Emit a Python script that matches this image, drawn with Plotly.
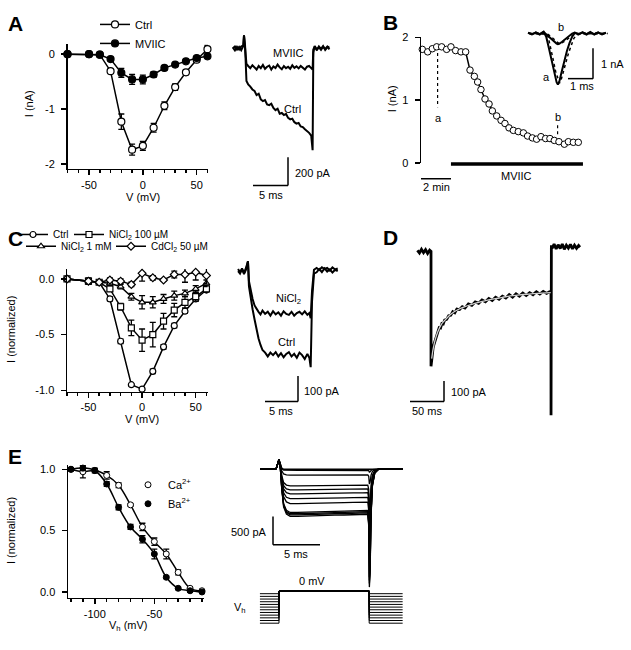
import plotly.graph_objects as go

W, H = 631, 650
FONT = "Liberation Sans, Arial, Helvetica, sans-serif"


def px(x):
    return x / W


def py(y):
    return 1 - y / H


def dx(a, b):
    return [a / W, b / W]


def dy(top, bot):
    return [1 - bot / H, 1 - top / H]


# ---------------- Panel A : I-V ----------------
V_A = [-70, -50, -40, -30, -20, -10, 0, 10, 20, 30, 40, 50, 60]
A_ctrl = [0, 0, -0.01, -0.31, -1.23, -1.74, -1.67, -1.34, -0.94, -0.60, -0.33, -0.10, 0.09]
A_ctrl_err = [0, 0.01, 0.02, 0.03, 0.14, 0.10, 0.08, 0.08, 0.07, 0.06, 0.04, 0.04, 0.07]
A_mviic = [0, 0, -0.01, -0.09, -0.34, -0.46, -0.46, -0.37, -0.25, -0.19, -0.13, -0.07, -0.04]
A_mviic_err = [0, 0.01, 0.02, 0.03, 0.08, 0.09, 0.08, 0.05, 0.04, 0.03, 0.02, 0.03, 0.03]

# Panel A : example currents (ms, pA)
tA = [-1.6, -1.3, -1.0, -0.7, -0.4, -0.1, 0.0, 0.15, 0.35, 0.6,
      0.9, 1.2, 1.5, 1.8, 2.1, 2.4, 2.7, 3.0, 3.3, 3.6,
      3.9, 4.2, 4.5, 4.8, 5.1, 5.4, 5.7, 6.0, 6.3, 6.6,
      6.9, 7.2, 7.5, 7.8, 8.1, 8.4, 8.7, 9.0, 9.3, 9.6,
      9.8, 9.9, 10.1, 10.4, 10.7, 11.0, 11.3, 11.6, 11.9, 12.2]
A_tr_ctrl = [5, -15, 10, -10, 12, 20, 90, 20, -230, -255,
             -270, -290, -300, -330, -320, -360, -372, -365, -395, -400,
             -390, -420, -435, -425, -460, -455, -470, -462, -490, -500,
             -495, -520, -530, -525, -550, -555, -570, -580, -595, -614,
             -717, -30, 15, -10, 8, -12, 10, -5, 12, -8]
A_tr_mviic = [0, 12, -10, 8, -14, 15, 90, 10, -110, -125,
              -140, -120, -135, -150, -125, -140, -118, -145, -130, -122,
              -150, -128, -140, -115, -135, -148, -125, -140, -130, -145,
              -120, -138, -128, -142, -125, -135, -150, -130, -125, -140,
              -150, -10, 10, -15, 12, -5, 15, -12, 5, 10]

# ---------------- Panel B : time course (min, nA) ----------------
tB = [0.02, 0.38, 0.69, 0.98, 1.31, 1.64, 1.93, 2.24, 2.6, 2.91,
      3.2, 3.49, 3.71, 3.93, 4.2, 4.47, 4.69, 4.98, 5.27, 5.53,
      5.8, 6.09, 6.42, 6.76, 7.04, 7.36, 7.64, 7.93, 8.24, 8.53,
      8.82, 9.13, 9.49, 9.76, 10.09, 10.42]
IB = [1.81, 1.77, 1.82, 1.85, 1.85, 1.81, 1.85, 1.79, 1.77, 1.77,
      1.48, 1.38, 1.29, 1.17, 1.02, 0.94, 0.83, 0.75, 0.68, 0.63,
      0.56, 0.52, 0.50, 0.48, 0.43, 0.40, 0.38, 0.42, 0.39, 0.39,
      0.36, 0.34, 0.30, 0.34, 0.33, 0.33]
B_mark_t = [1.04, 9.04]
B_mark_top = [1.75, 0.60]
B_mark_bot = [0.89, 0.45]
B_mviic_span = [1.93, 10.73]

# inset (ms, nA)
tI = [0, 0.15, 0.3, 0.45, 0.6, 0.7, 0.8, 0.9, 1.0, 1.1, 1.15, 1.2, 1.3,
      1.4, 1.5, 1.6, 1.7, 1.8, 1.95, 2.1, 2.25, 2.4, 2.55, 2.7, 2.85, 3.0]
I_a = [0.02, -0.03, 0.04, -0.02, 0.06, -0.1, -0.45, -0.85, -1.25, -1.55, -1.63, -1.55, -1.2,
       -0.85, -0.55, -0.3, -0.1, 0.02, -0.03, 0.04, -0.02, 0.05, -0.03, 0.03, -0.02, 0.03]
I_b = [0.03, -0.02, 0.03, -0.03, 0.05, -0.03, -0.1, -0.18, -0.26, -0.32, -0.34, -0.33, -0.27,
       -0.2, -0.13, -0.06, 0.0, 0.03, -0.02, 0.04, -0.03, 0.03, -0.02, 0.04, -0.03, 0.02]
I_a_fit = [0, 0, 0, 0, 0, -0.05, -0.38, -0.8, -1.2, -1.5, -1.58, -1.52, -1.25,
           -0.92, -0.62, -0.36, -0.16, -0.05, 0, 0, 0, 0, 0, 0, 0, 0]
I_b_fit = [0, 0, 0, 0, 0, -0.02, -0.08, -0.16, -0.24, -0.3, -0.33, -0.32, -0.28,
           -0.22, -0.15, -0.08, -0.03, 0, 0, 0, 0, 0, 0, 0, 0, 0]

# ---------------- Panel C : normalized I-V ----------------
V_C = [-70, -50, -40, -30, -20, -10, 0, 10, 20, 30, 40, 50, 60]
C_ctrl = [0, -0.02, -0.03, -0.18, -0.56, -0.95, -0.99, -0.83, -0.61, -0.42, -0.29, -0.18, -0.10]
C_ctrl_err = [0, 0.01, 0.01, 0.02, 0.02, 0.01, 0.01, 0.02, 0.02, 0.02, 0.02, 0.02, 0.02]
C_ni100 = [0, -0.02, -0.03, -0.09, -0.25, -0.44, -0.55, -0.50, -0.38, -0.28, -0.21, -0.16, -0.09]
C_ni100_err = [0, 0.01, 0.01, 0.02, 0.03, 0.07, 0.10, 0.11, 0.07, 0.06, 0.05, 0.04, 0.03]
C_ni1 = [0, -0.02, -0.03, -0.04, -0.07, -0.16, -0.21, -0.21, -0.18, -0.15, -0.13, -0.09, -0.04]
C_ni1_err = [0, 0.01, 0.01, 0.02, 0.02, 0.03, 0.06, 0.05, 0.04, 0.04, 0.03, 0.03, 0.03]
C_cd = [0, -0.02, -0.03, -0.01, -0.02, -0.05, 0.05, 0.01, -0.01, 0.04, 0.04, 0.06, 0.03]
C_cd_err = [0, 0.03, 0.01, 0.02, 0.02, 0.02, 0.07, 0.02, 0.01, 0.03, 0.07, 0.07, 0.07]

# Panel C currents (ms, pA)
tC = [-1.5, -1.2, -0.9, -0.6, -0.3, 0, 0.15, 0.4, 0.7, 1.0,
      1.3, 1.6, 1.9, 2.2, 2.6, 3.0, 3.4, 3.8, 4.2, 4.6,
      5.0, 5.4, 5.8, 6.2, 6.6, 7.0, 7.4, 7.8, 8.2, 8.6,
      9.0, 9.3, 9.5, 9.7, 10.0, 10.4, 10.8, 11.2, 11.6, 12.0,
      12.4, 12.8, 13.2, 13.6]
C_tr_ctrl = [0, -10, 8, -12, 5, 38, -60, -110, -150, -190,
             -230, -265, -290, -310, -320, -335, -320, -330, -318, -335,
             -322, -338, -325, -318, -335, -325, -340, -320, -330, -345,
             -325, -340, -377, -120, -10, -5, 8, -4, 10, -2,
             6, -6, 5, 0]
C_tr_ni = [8, -6, 10, -8, 12, 38, -40, -75, -110, -135,
           -150, -160, -170, -155, -168, -160, -175, -158, -170, -162,
           -175, -158, -168, -172, -160, -175, -165, -160, -170, -158,
           -172, -165, -185, -80, 5, 12, 4, 15, 8, 12,
           2, 14, 6, 10]

# ---------------- Panel D : long pulse (ms, pA) ----------------
tD = [-20, -17, -14, -11, -8, -5, -2, 0, 0.01, 1, 2, 3, 4, 6, 8, 10, 12, 14, 16, 18,
      20, 23, 26, 29, 32, 35, 38, 42, 46, 50, 55, 60, 65, 70, 75, 80, 85, 90, 95, 100,
      105, 110, 115, 120, 125, 130, 135, 140, 145, 150, 155, 160, 165, 170, 174, 176.4, 176.5, 177, 178, 181,
      184, 187, 190, 193, 196, 199, 202, 205, 208, 211, 214, 217, 219]
ID = [5, -8, 10, -6, 8, -10, 6, 0, -557, -515, -495, -470, -455, -432, -405, -392, -370, -372, -350, -352,
      -333, -330, -312, -310, -292, -298, -280, -282, -268, -275, -255, -262, -245, -252, -236, -244, -228, -238, -222, -232,
      -217, -226, -210, -222, -206, -217, -202, -214, -200, -210, -196, -207, -194, -204, -196, -200, -795, 30, 15, 35,
      12, 32, 14, 36, 10, 30, 16, 34, 12, 30, 15, 28, 20]
tD_fit = [1, 3, 6, 10, 15, 20, 30, 40, 50, 60, 70, 80, 90, 100, 110, 120, 130, 140, 150, 160, 170, 176]
ID_fit = [-520, -475, -430, -390, -355, -335, -302, -282, -268, -257, -247, -239, -232, -226, -220,
          -215, -211, -208, -205, -203, -201, -200]

# ---------------- Panel E : inactivation ----------------
Vh = [-120, -110, -100, -90, -80, -70, -60, -50, -40, -30, -20, -10]
E_ca = [1.0, 0.98, 0.99, 0.95, 0.87, 0.71, 0.53, 0.41, 0.31, 0.16, 0.03, 0.01]
E_ca_err = [0.01, 0.05, 0.01, 0.03, 0.02, 0.01, 0.03, 0.03, 0.04, 0.02, 0.01, 0.01]
E_ba = [1.0, 1.01, 0.99, 0.88, 0.69, 0.53, 0.43, 0.31, 0.12, 0.03, 0.01, 0.0]
E_ba_err = [0.01, 0.02, 0.02, 0.02, 0.02, 0.02, 0.03, 0.04, 0.01, 0.01, 0.01, 0.01]

# Panel E currents: shared time base, normalized waveform, per-trace amplitude (pA)
tE = [-2.0, -1.0, -0.3, 0.0, 0.15, 0.3, 0.5, 0.8, 1.2, 2.0, 3.0, 4.0, 5.0, 6.0,
      7.0, 8.0, 9.0, 9.55, 9.65, 9.72, 9.8, 9.9, 10.05, 10.3, 10.7, 11.5, 12.5, 13.3]
E_wave = [0, 0, 0, 0, 0.1, 0.45, 0.8, 0.95, 1.0, 1.0, 0.99, 0.985, 0.98, 0.975,
          0.97, 0.965, 0.96, 0.955, 1.2, 2.5, 2.2, 1.0, 0.35, 0.08, 0.0, 0, 0, 0]
E_cap = [0, 0, 10, 170, 90, 20, 0, 0, 0, 0, 0, 0, 0, 0,
         0, 0, 0, 0, 0, 0, 0, 0, 0, 0, 0, 0, 0, 0]
E_amp = [0, -20, -103, -292, -361, -430, -516, -602, -757, -780, -800, -826]
# voltage protocol (ms, mV)
E_hold = [-10, -20, -30, -40, -50, -60, -70, -80, -90, -100, -110, -120]
E_step_mV = 0
E_step_t = [-2.05, 0.0, 9.7, 13.3]

fig = go.Figure()
blk = "black"


def iv_trace(x, y, err, xa, ya, symbol, fill, name, legend, size=7, showlegend=True):
    return go.Scatter(
        x=x, y=y, xaxis=xa, yaxis=ya, name=name, legend=legend, showlegend=showlegend,
        mode="lines+markers", cliponaxis=False,
        line=dict(color=blk, width=1.5),
        marker=dict(symbol=symbol, size=size, color=fill, line=dict(color=blk, width=1.2)),
        error_y=dict(type="data", array=err, visible=True, color=blk, thickness=1.3, width=3),
    )


# A
fig.add_trace(iv_trace(V_A, A_ctrl, A_ctrl_err, "x", "y", "circle", "white", "Ctrl", "legend"))
fig.add_trace(iv_trace(V_A, A_mviic, A_mviic_err, "x", "y", "circle", blk, "MVIIC", "legend"))
fig.add_trace(go.Scatter(x=tA, y=A_tr_mviic, xaxis="x2", yaxis="y2", mode="lines",
                         line=dict(color=blk, width=2), showlegend=False))
fig.add_trace(go.Scatter(x=tA, y=A_tr_ctrl, xaxis="x2", yaxis="y2", mode="lines",
                         line=dict(color=blk, width=2), showlegend=False))

# B
fig.add_trace(go.Scatter(x=tB, y=IB, xaxis="x3", yaxis="y3", mode="lines+markers", cliponaxis=False,
                         line=dict(color=blk, width=1.5),
                         marker=dict(symbol="circle", size=6.5, color="white", line=dict(color=blk, width=1)),
                         showlegend=False))
for t, a, b in zip(B_mark_t, B_mark_top, B_mark_bot):
    fig.add_trace(go.Scatter(x=[t, t], y=[a, b], xaxis="x3", yaxis="y3", mode="lines",
                             line=dict(color=blk, width=1.2, dash="dot"), showlegend=False))
for arr, w in ((I_a, 2), (I_b, 2)):
    fig.add_trace(go.Scatter(x=tI, y=arr, xaxis="x4", yaxis="y4", mode="lines",
                             line=dict(color=blk, width=w), showlegend=False))
for arr in (I_a_fit, I_b_fit):
    fig.add_trace(go.Scatter(x=[t + 0.06 for t in tI], y=arr, xaxis="x4", yaxis="y4", mode="lines",
                             line=dict(color=blk, width=1.5, dash="dot"), showlegend=False))

# C
fig.add_trace(iv_trace(V_C, C_ctrl, C_ctrl_err, "x5", "y5", "circle", "white", "Ctrl", "legend2", 6))
fig.add_trace(iv_trace(V_C, C_ni100, C_ni100_err, "x5", "y5", "square", "white", "NiCl<sub>2</sub> 100 µM", "legend3", 6))
fig.add_trace(iv_trace(V_C, C_ni1, C_ni1_err, "x5", "y5", "triangle-up", "white", "NiCl<sub>2</sub> 1 mM", "legend5", 6))
fig.add_trace(iv_trace(V_C, C_cd, C_cd_err, "x5", "y5", "diamond", "white", "CdCl<sub>2</sub> 50 µM", "legend6", 6))
fig.add_trace(go.Scatter(x=tC, y=C_tr_ni, xaxis="x6", yaxis="y6", mode="lines",
                         line=dict(color=blk, width=2), showlegend=False))
fig.add_trace(go.Scatter(x=tC, y=C_tr_ctrl, xaxis="x6", yaxis="y6", mode="lines",
                         line=dict(color=blk, width=2), showlegend=False))

# D
fig.add_trace(go.Scatter(x=tD, y=ID, xaxis="x7", yaxis="y7", mode="lines",
                         line=dict(color=blk, width=2.8), showlegend=False))
fig.add_trace(go.Scatter(x=tD_fit, y=ID_fit, xaxis="x7", yaxis="y7", mode="lines", line_shape="spline",
                         line=dict(color="#d0d0d0", width=1.3), showlegend=False))

# E
fig.add_trace(go.Scatter(x=Vh, y=E_ca, xaxis="x8", yaxis="y8", mode="lines", line_shape="spline",
                         line=dict(color=blk, width=1.5), showlegend=False))
fig.add_trace(go.Scatter(x=Vh, y=E_ba, xaxis="x8", yaxis="y8", mode="lines", line_shape="spline",
                         line=dict(color=blk, width=1.5), showlegend=False))
fig.add_trace(go.Scatter(x=Vh, y=E_ca, xaxis="x8", yaxis="y8", mode="markers", cliponaxis=False,
                         name="Ca<sup>2+</sup>", legend="legend4",
                         marker=dict(symbol="circle", size=6, color="white", line=dict(color=blk, width=1)),
                         error_y=dict(type="data", array=E_ca_err, color=blk, thickness=1.3, width=3)))
fig.add_trace(go.Scatter(x=Vh, y=E_ba, xaxis="x8", yaxis="y8", mode="markers", cliponaxis=False,
                         name="Ba<sup>2+</sup>", legend="legend4",
                         marker=dict(symbol="circle", size=6, color=blk, line=dict(color=blk, width=1)),
                         error_y=dict(type="data", array=E_ba_err, color=blk, thickness=1.3, width=3)))
for amp in E_amp:
    yy = [amp * w + c for w, c in zip(E_wave, E_cap)]
    fig.add_trace(go.Scatter(x=tE, y=yy, xaxis="x9", yaxis="y9", mode="lines",
                             line=dict(color=blk, width=1.3), showlegend=False))
for vh in E_hold:
    fig.add_trace(go.Scatter(x=[E_step_t[0], E_step_t[1], E_step_t[1], E_step_t[2], E_step_t[2], E_step_t[3]],
                             y=[vh, vh, E_step_mV, E_step_mV, vh, vh], xaxis="x10", yaxis="y10", mode="lines",
                             line=dict(color=blk, width=1), showlegend=False))

# -------- axes --------
tickfont = dict(family=FONT, size=11, color=blk)
base = dict(showline=True, linecolor=blk, linewidth=1.5, ticks="outside", ticklen=5, tickwidth=1.5,
            tickcolor=blk, showgrid=False, zeroline=False, tickfont=tickfont, fixedrange=True)
hidden = dict(visible=False, showgrid=False, zeroline=False, fixedrange=True)

lay = {}
# A IV
lay["xaxis"] = dict(base, domain=dx(67.5, 208), range=[-70, 60.5], anchor="y",
                    tickmode="array", tickvals=[-50, 0, 50], ticktext=["-50", "0", "50"],
                    minor=dict(ticks="outside", ticklen=3, tickwidth=1.5, tickcolor=blk,
                               tickmode="array", tickvals=list(range(-70, 61, 10))))
lay["yaxis"] = dict(base, domain=dy(39, 166), range=[-2.09, 0.18], anchor="x",
                    tickmode="array", tickvals=[0, -1, -2], ticktext=["0", "-1", "-2"], ticklabelstandoff=4)
lay["xaxis2"] = dict(hidden, domain=dx(230, 332), range=[-2, 12.57], anchor="y2")
lay["yaxis2"] = dict(hidden, domain=dy(25, 200), range=[-1083, 124], anchor="x2")
# B
lay["xaxis3"] = dict(hidden, domain=dx(421, 590), range=[-0.067, 11.2], anchor="y3")
lay["yaxis3"] = dict(base, domain=dy(32, 160), range=[0, 2], anchor="x3",
                     tickmode="array", tickvals=[0, 1, 2], ticktext=["0", "1", "2"], ticklabelstandoff=4)
lay["xaxis4"] = dict(hidden, domain=dx(520, 615), range=[-0.31, 3.35], anchor="y4")
lay["yaxis4"] = dict(hidden, domain=dy(15, 90), range=[-1.94, 0.41], anchor="x4")
# C IV
lay["xaxis5"] = dict(base, domain=dx(67, 207.5), range=[-70, 61], anchor="y5",
                     tickmode="array", tickvals=[-50, 0, 50], ticktext=["-50", "0", "50"],
                     minor=dict(ticks="outside", ticklen=3, tickwidth=1.5, tickcolor=blk,
                                tickmode="array", tickvals=list(range(-70, 61, 10))))
lay["yaxis5"] = dict(base, domain=dy(268, 393), range=[-1.0133, 0.0885], anchor="x5",
                     tickmode="array", tickvals=[0, -0.5, -1], ticktext=["0.0", "-0.5", "-1.0"], ticklabelstandoff=4)
lay["xaxis6"] = dict(hidden, domain=dx(232, 345), range=[-2.42, 14.7], anchor="y6")
lay["yaxis6"] = dict(hidden, domain=dy(250, 420), range=[-577.5, 77], anchor="x6")
# D
lay["xaxis7"] = dict(hidden, domain=dx(410, 590), range=[-30.9, 233.8], anchor="y7")
lay["yaxis7"] = dict(hidden, domain=dy(235, 425), range=[-833, 71.4], anchor="x7")
# E IV
lay["xaxis8"] = dict(base, domain=dx(68, 204), range=[-122.5, -8.3], anchor="y8",
                     tickmode="array", tickvals=[-100, -50], ticktext=["-100", "-50"],
                     minor=dict(ticks="outside", ticklen=3, tickwidth=1.5, tickcolor=blk,
                                tickmode="array", tickvals=list(range(-120, -9, 10))))
lay["yaxis8"] = dict(base, domain=dy(468, 603), range=[-0.048, 1.032], anchor="x8",
                     tickmode="array", tickvals=[0, 0.5, 1], ticktext=["0.0", "0.5", "1.0"], ticklabelstandoff=4)
lay["xaxis9"] = dict(hidden, domain=dx(255, 410), range=[-2.58, 14.09], anchor="y9")
lay["yaxis9"] = dict(hidden, domain=dy(450, 600), range=[-2202, 378], anchor="x9")
lay["xaxis10"] = dict(hidden, domain=dx(255, 410), range=[-2.58, 14.09], anchor="y10")
lay["yaxis10"] = dict(hidden, domain=dy(585, 640), range=[-161, 40.3], anchor="x10")

# -------- annotations --------
anns = []


def ann(text, x, y, size=11, xanchor="center", angle=0, bold=False):
    anns.append(dict(text=("<b>%s</b>" % text) if bold else text, x=px(x), y=py(y), xref="paper", yref="paper",
                     xanchor=xanchor, yanchor="middle", showarrow=False, textangle=angle,
                     font=dict(family=FONT, size=size, color=blk)))


for letter, x, y in (("A", 15, 18), ("B", 390, 17), ("C", 15, 237), ("D", 390, 236), ("E", 15, 459)):
    ann(letter, x, y, size=21, bold=True)

ann("I (nA)", 29, 100, angle=-90)
ann("V (mV)", 143, 195)
ann("MVIIC", 288, 48)
ann("Ctrl", 292, 105)
ann("200 pA", 293, 170, xanchor="left")
ann("5 ms", 271, 193)

ann("I (nA)", 392, 95, angle=-90)
ann("a", 438, 114)
ann("b", 558, 113)
ann("MVIIC", 516, 173)
ann("2 min", 436, 184)
ann("a", 546, 72)
ann("b", 561, 21)
ann("1 nA", 599, 59, xanchor="left")
ann("1 ms", 582, 81)

ann("I (normalized)", 11, 330, angle=-90)
ann("V (mV)", 142, 421)
ann("NiCl<sub>2</sub>", 288, 299)
ann("Ctrl", 286, 342)
ann("100 pA", 302, 392, xanchor="left")
ann("5 ms", 281, 413)

ann("100 pA", 449, 393, xanchor="left")
ann("50 ms", 427, 413)

ann("I (normalized)", 11, 535, angle=-90)
ann("V<sub>h</sub> (mV)", 128, 632)
ann("500 pA", 269, 536, xanchor="right")
ann("5 ms", 296, 558)
ann("0 mV", 312, 586)
ann("V<sub>h</sub>", 240, 613)

# -------- scale bars (paper coords) --------
shapes = []


def bar(x0, y0, x1, y1, w=1.5):
    shapes.append(dict(type="line", xref="paper", yref="paper", x0=px(x0), y0=py(y0), x1=px(x1), y1=py(y1),
                       line=dict(color=blk, width=w)))


bar(288, 154, 288, 183); bar(253, 183, 288, 183)          # A
bar(421, 176, 451, 176)                                    # B 2 min
bar(593, 43, 593, 74); bar(568, 74, 593, 74)               # B inset
bar(298, 377, 298, 403); bar(265, 403, 298, 403)           # C
bar(444, 382, 444, 403); bar(410, 403, 444, 403)           # D
bar(273, 520, 273, 549); bar(273, 549, 320, 549)           # E
# B MVIIC application bar (time in data units)
shapes.append(dict(type="line", xref="x3", yref="paper", x0=B_mviic_span[0], x1=B_mviic_span[1],
                   y0=py(161), y1=py(161), line=dict(color=blk, width=3.5)))

leg_common = dict(bgcolor="rgba(0,0,0,0)", borderwidth=0, itemwidth=30, xanchor="left", yanchor="top",
                  font=dict(family=FONT, size=11, color=blk), itemclick=False, itemdoubleclick=False)
legC_font = dict(family=FONT, size=10, color=blk)
fig.update_layout(
    width=W, height=H, margin=dict(l=0, r=0, t=0, b=0),
    paper_bgcolor="white", plot_bgcolor="rgba(0,0,0,0)",
    font=dict(family=FONT, size=11, color=blk),
    annotations=anns, shapes=shapes,
    legend=dict(leg_common, x=px(95), y=py(4), orientation="v", tracegroupgap=0),
    legend2=dict(leg_common, x=px(13), y=py(218), font=legC_font),
    legend3=dict(leg_common, x=px(69), y=py(218), font=legC_font),
    legend5=dict(leg_common, x=px(21), y=py(230), font=legC_font),
    legend6=dict(leg_common, x=px(111), y=py(230), font=legC_font),
    legend4=dict(leg_common, x=px(128), y=py(473), orientation="v"),
    **lay,
)

fig.write_html("out.html", config=dict(displayModeBar=False, staticPlot=True),
               post_script="document.body.style.margin='0px';document.body.style.overflow='hidden';")
